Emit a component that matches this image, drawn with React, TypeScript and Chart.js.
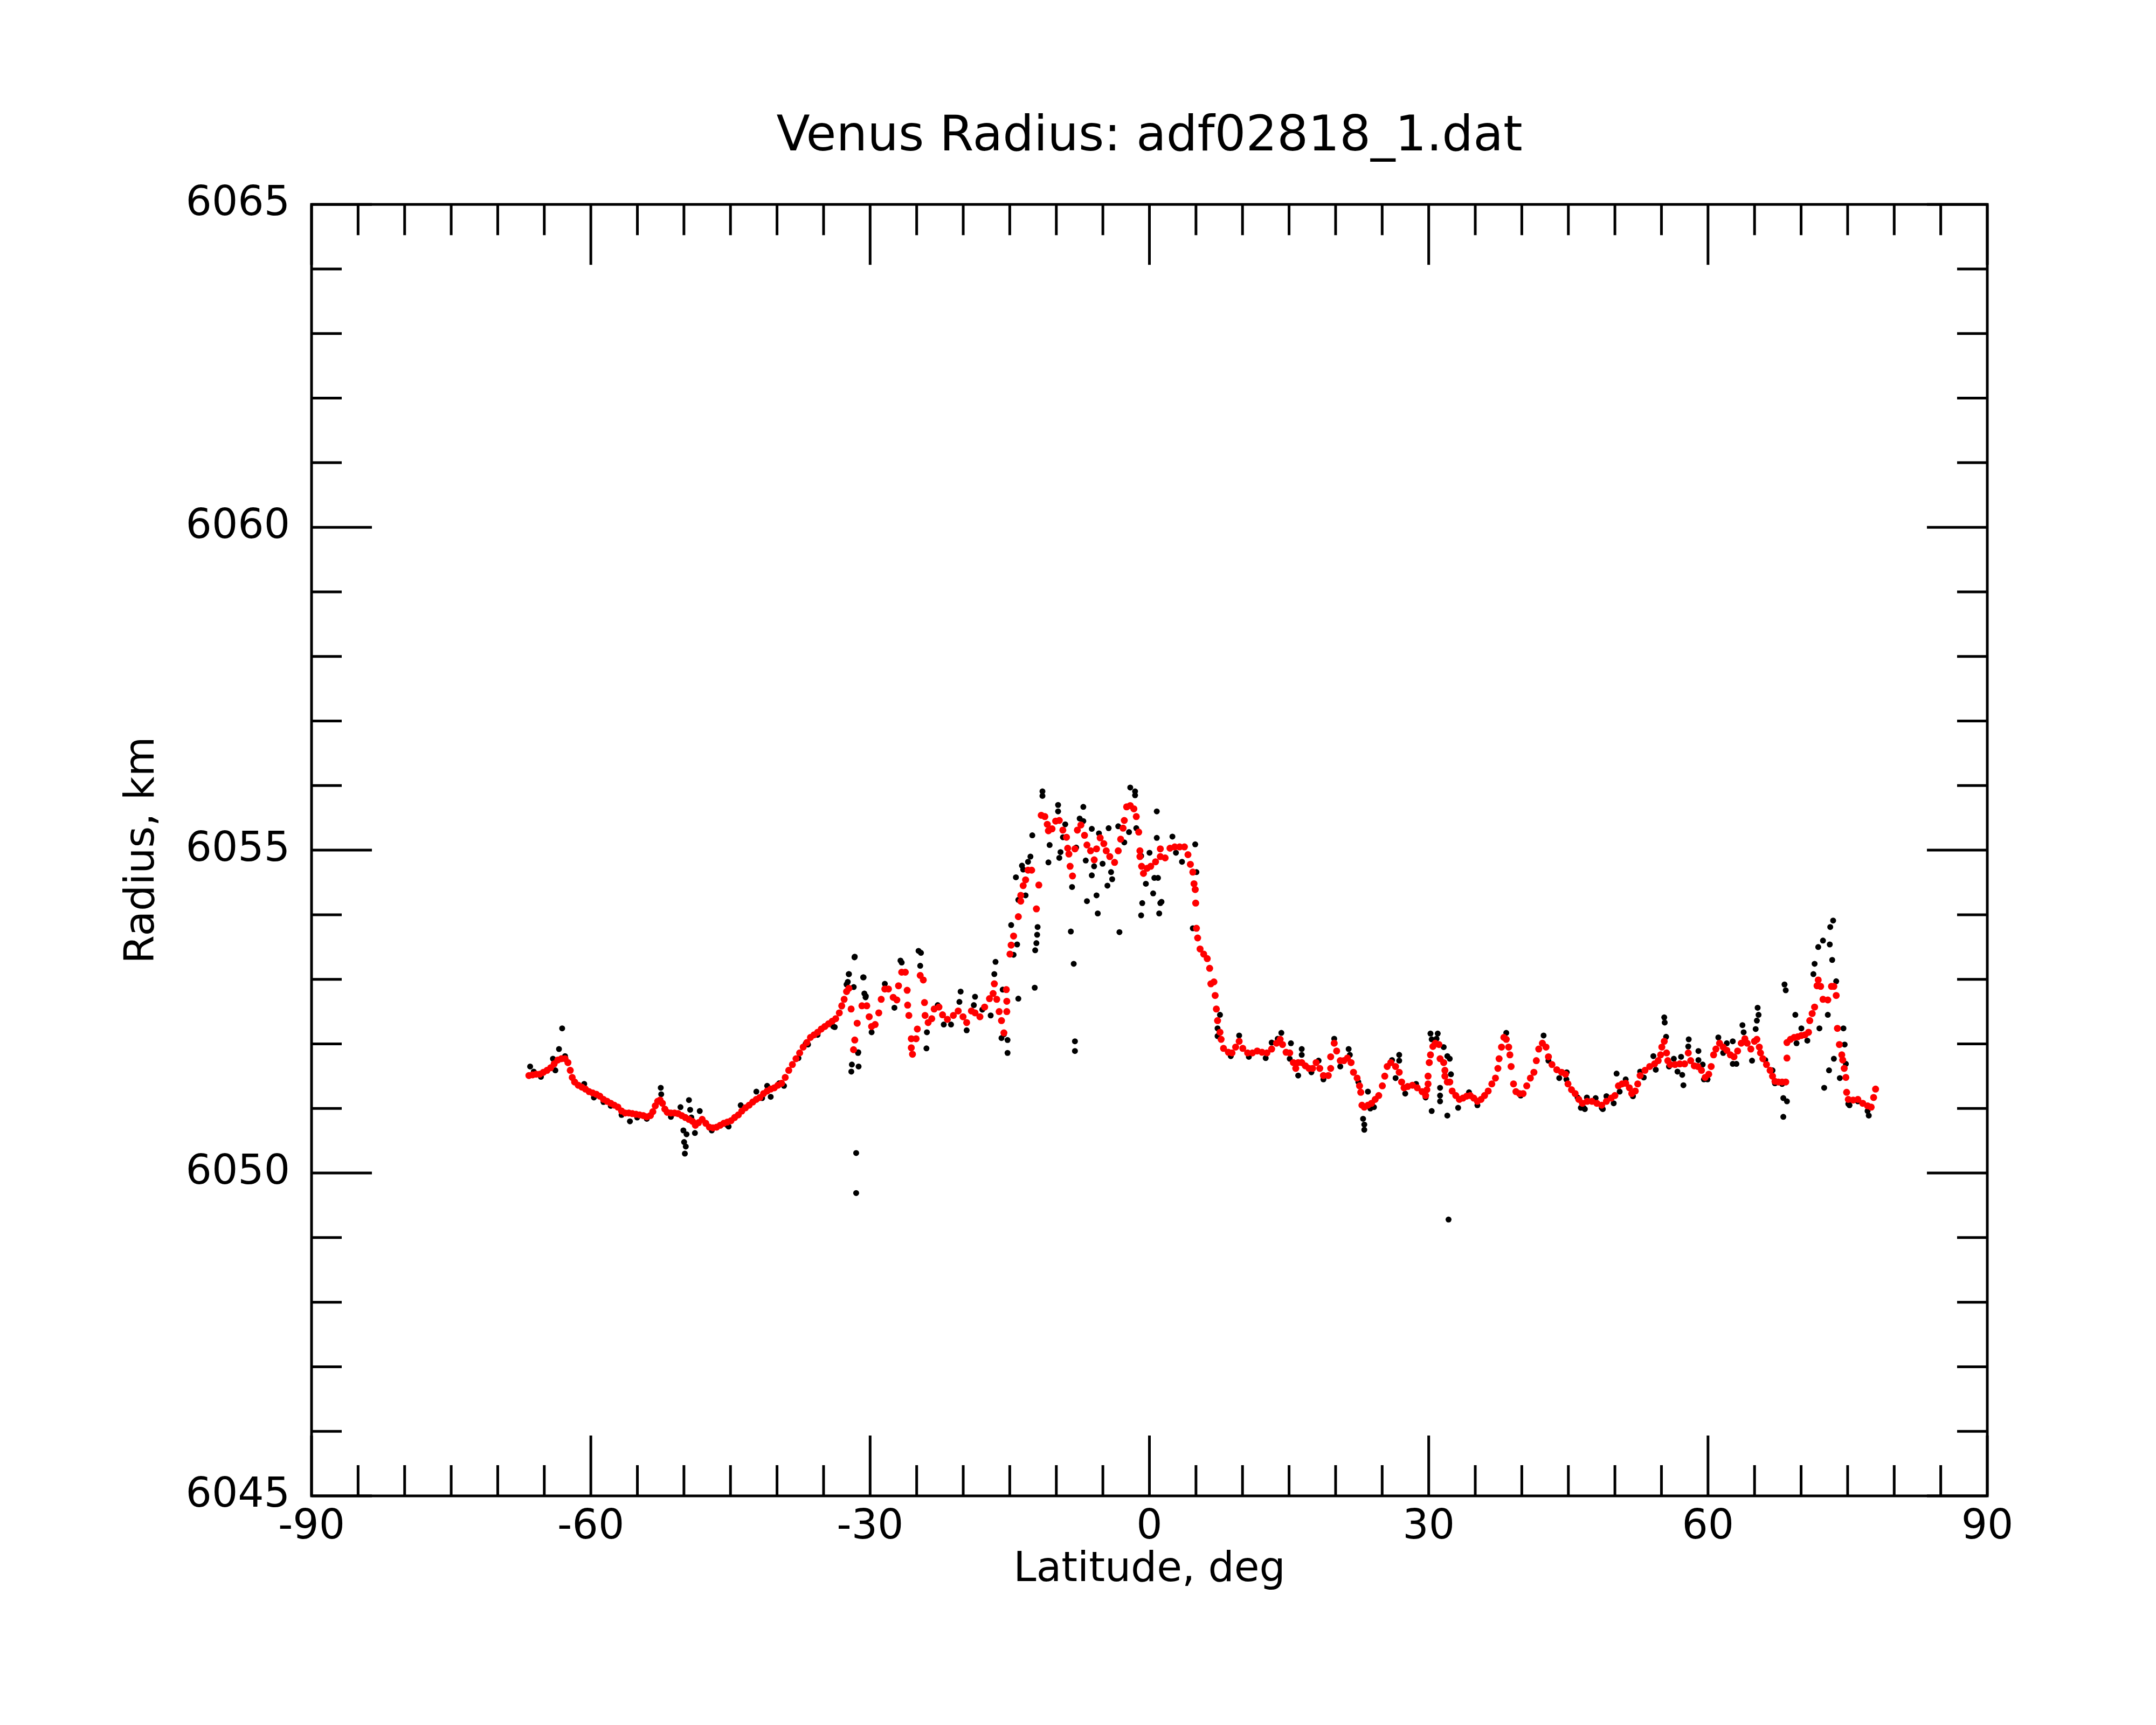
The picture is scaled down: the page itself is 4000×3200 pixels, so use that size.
import { useEffect, useRef } from "react"
import { Chart, registerables } from "chart.js"

Chart.register(...registerables)

const FONT = "DejaVu Sans"

const chartTitle = "Venus Radius: adf02818_1.dat"
const xTitle = "Latitude, deg"
const yTitle = "Radius, km"

const latTicks = [-90, -60, -30, 0, 30, 60, 90]
const radiusTicks = [6045, 6050, 6055, 6060, 6065]
const latMinorStep = 5
const radiusMinorStep = 1

// smoothed radius profile (red), [latitude, radius]
const smoothSouth: [number, number][] = [
  [-66.65, 6051.51], [-66.26, 6051.52], [-65.88, 6051.53], [-65.49, 6051.53], [-65.1, 6051.56],
  [-64.71, 6051.59], [-64.32, 6051.63], [-63.94, 6051.69], [-63.55, 6051.75], [-63.16, 6051.77],
  [-62.77, 6051.77], [-62.46, 6051.71], [-62.21, 6051.59], [-62.0, 6051.48], [-61.74, 6051.41],
  [-61.35, 6051.36], [-60.96, 6051.33], [-60.58, 6051.3], [-60.19, 6051.26], [-59.8, 6051.24],
  [-59.41, 6051.22], [-59.03, 6051.19], [-58.64, 6051.14], [-58.25, 6051.11], [-57.86, 6051.08],
  [-57.48, 6051.05], [-57.09, 6051.02], [-56.7, 6050.96], [-56.31, 6050.93], [-55.92, 6050.93],
  [-55.54, 6050.92], [-55.15, 6050.91], [-54.76, 6050.9], [-54.37, 6050.89], [-53.99, 6050.87],
  [-53.6, 6050.89], [-53.34, 6050.95], [-53.08, 6051.04], [-52.82, 6051.11], [-52.56, 6051.13],
  [-52.31, 6051.08], [-52.05, 6050.99], [-51.79, 6050.94], [-51.4, 6050.93], [-51.01, 6050.93],
  [-50.63, 6050.92], [-50.24, 6050.89], [-49.85, 6050.86], [-49.46, 6050.83], [-49.08, 6050.8],
  [-48.77, 6050.74], [-48.43, 6050.78], [-48.04, 6050.83], [-47.65, 6050.77], [-47.27, 6050.71],
  [-46.88, 6050.7], [-46.49, 6050.71], [-46.1, 6050.74], [-45.72, 6050.77], [-45.33, 6050.79],
  [-44.94, 6050.81], [-44.55, 6050.86], [-44.16, 6050.9], [-43.78, 6050.96], [-43.39, 6051.01],
  [-43.0, 6051.05], [-42.61, 6051.1], [-42.23, 6051.14], [-41.84, 6051.17], [-41.45, 6051.23],
  [-41.06, 6051.27], [-40.68, 6051.3], [-40.29, 6051.32], [-39.9, 6051.36], [-39.51, 6051.39],
  [-39.12, 6051.48], [-38.74, 6051.59], [-38.35, 6051.68], [-37.96, 6051.77], [-37.57, 6051.86],
  [-37.19, 6051.95], [-36.8, 6052.02], [-36.41, 6052.1], [-36.02, 6052.14], [-35.64, 6052.18],
  [-35.25, 6052.23], [-34.86, 6052.27], [-34.47, 6052.31], [-34.08, 6052.35], [-33.7, 6052.39],
  [-33.31, 6052.48], [-33.05, 6052.59], [-32.79, 6052.69], [-32.53, 6052.81], [-32.28, 6052.86],
]

const smoothEquator: [number, number][] = [
  [-32.04, 6052.54], [-31.78, 6051.91], [-31.65, 6052.06], [-31.39, 6052.32], [-30.88, 6052.59],
  [-30.36, 6052.59], [-30.1, 6052.42], [-29.84, 6052.27], [-29.46, 6052.3], [-29.07, 6052.48],
  [-28.81, 6052.69], [-28.42, 6052.85], [-28.03, 6052.85], [-27.52, 6052.72], [-27.13, 6052.68],
  [-26.95, 6052.9], [-26.61, 6053.11], [-26.22, 6053.11], [-26.02, 6052.83], [-25.97, 6052.6],
  [-25.84, 6052.44], [-25.58, 6052.08], [-25.58, 6051.94], [-25.45, 6051.84], [-25.06, 6052.08],
  [-24.93, 6052.23], [-24.62, 6053.06], [-24.29, 6052.99], [-24.16, 6052.64], [-24.1, 6052.44],
  [-23.77, 6052.33], [-23.38, 6052.39], [-23.12, 6052.54], [-22.61, 6052.57], [-22.22, 6052.45],
  [-21.7, 6052.38], [-21.06, 6052.44], [-20.54, 6052.51], [-20.02, 6052.42], [-19.63, 6052.33],
  [-19.12, 6052.51], [-18.73, 6052.48], [-18.21, 6052.42], [-17.7, 6052.57], [-17.18, 6052.7],
  [-16.79, 6052.78], [-16.66, 6052.93], [-16.4, 6052.69], [-16.14, 6052.5], [-15.89, 6052.36],
  [-15.63, 6052.17], [-15.37, 6052.84], [-15.32, 6052.66], [-15.32, 6052.5], [-14.98, 6053.39],
  [-14.85, 6053.53], [-14.59, 6053.67], [-14.08, 6053.97], [-13.82, 6054.21], [-13.82, 6054.3],
  [-13.56, 6054.45], [-13.3, 6054.54], [-13.04, 6054.69], [-12.65, 6054.69], [-12.14, 6054.09],
  [-11.88, 6054.46], [-11.62, 6055.54], [-11.23, 6055.52], [-10.97, 6055.4], [-10.85, 6055.3],
  [-10.46, 6055.33], [-10.07, 6055.45], [-9.68, 6055.46], [-9.3, 6055.31], [-8.91, 6055.2],
  [-8.78, 6055.03], [-8.65, 6054.94], [-8.52, 6054.75], [-8.26, 6054.6], [-8.0, 6055.02],
  [-7.74, 6055.31], [-7.36, 6055.39], [-6.97, 6055.23], [-6.71, 6055.08], [-6.32, 6054.99],
  [-5.93, 6054.85], [-5.68, 6055.02], [-5.29, 6055.19], [-4.9, 6055.1], [-4.64, 6054.99],
  [-4.26, 6054.9], [-3.74, 6054.81], [-3.35, 6054.99], [-3.09, 6055.17], [-2.83, 6055.34],
  [-2.7, 6055.46], [-2.45, 6055.67], [-2.06, 6055.69], [-1.67, 6055.64], [-1.41, 6055.52],
  [-1.15, 6055.28], [-1.02, 6054.99], [-1.02, 6054.9], [-0.84, 6054.75], [-0.64, 6054.64],
  [-0.25, 6054.72], [0.14, 6054.75], [0.66, 6054.82], [1.17, 6054.9], [1.17, 6055.02],
  [1.69, 6054.88], [2.21, 6055.03], [2.72, 6055.05], [3.24, 6055.05], [3.76, 6055.05],
  [4.14, 6054.93], [4.4, 6054.78], [4.66, 6054.66], [4.79, 6054.48], [4.92, 6054.39],
  [4.97, 6054.18], [5.05, 6053.79], [5.18, 6053.64], [5.44, 6053.47], [5.83, 6053.39],
  [6.21, 6053.32], [6.47, 6053.17], [6.6, 6052.93],
]

const smoothNorth: [number, number][] = [
  [6.93, 6052.96], [7.06, 6052.75], [7.19, 6052.54], [7.32, 6052.36], [7.58, 6052.18],
  [7.7, 6052.07], [7.96, 6051.93], [8.48, 6051.87], [8.87, 6051.86], [9.26, 6051.95],
  [9.64, 6052.04], [10.03, 6051.93], [10.55, 6051.86], [11.06, 6051.86], [11.58, 6051.89],
  [12.1, 6051.87], [12.62, 6051.86], [13.13, 6051.92], [13.65, 6052.01], [14.04, 6052.07],
  [14.3, 6051.99], [14.68, 6051.87], [15.07, 6051.86], [15.46, 6051.71], [15.72, 6051.62],
  [15.98, 6051.71], [16.36, 6051.71], [16.75, 6051.66], [17.14, 6051.62], [17.53, 6051.62],
  [17.91, 6051.71], [18.3, 6051.62], [18.69, 6051.51], [19.21, 6051.51], [19.47, 6051.62],
  [19.47, 6051.8], [19.85, 6052.01], [20.11, 6051.89], [20.5, 6051.74], [20.89, 6051.74],
  [21.27, 6051.78], [21.66, 6051.71], [21.92, 6051.56], [22.31, 6051.47], [22.57, 6051.35],
  [22.7, 6051.25], [22.83, 6051.05], [23.08, 6051.02], [23.47, 6051.05], [23.86, 6051.08],
  [24.25, 6051.14], [24.63, 6051.2], [25.02, 6051.35], [25.28, 6051.5], [25.54, 6051.65],
  [25.93, 6051.71], [26.44, 6051.65], [26.83, 6051.56], [27.09, 6051.41], [27.35, 6051.32],
  [27.74, 6051.34], [28.25, 6051.36], [28.77, 6051.32], [29.29, 6051.26], [29.67, 6051.2],
  [29.8, 6051.29], [29.93, 6051.38], [29.93, 6051.5], [30.06, 6051.71], [30.19, 6051.83],
  [30.45, 6051.96], [30.71, 6052.01], [31.1, 6051.99], [31.22, 6051.77], [31.61, 6051.71],
  [31.74, 6051.59], [31.74, 6051.5], [32.0, 6051.41], [32.26, 6051.41], [32.52, 6051.27],
  [32.91, 6051.2], [33.29, 6051.14], [33.68, 6051.16], [34.07, 6051.19], [34.46, 6051.2],
  [34.84, 6051.16], [35.23, 6051.11], [35.62, 6051.14], [36.0, 6051.2], [36.39, 6051.27],
  [36.78, 6051.38], [37.17, 6051.47], [37.43, 6051.62], [37.56, 6051.77], [37.82, 6051.95],
  [38.07, 6052.1], [38.33, 6052.07], [38.59, 6051.95], [38.72, 6051.83], [38.85, 6051.65],
  [39.11, 6051.38], [39.37, 6051.26], [39.75, 6051.23], [40.14, 6051.23], [40.53, 6051.35],
  [40.92, 6051.47], [41.3, 6051.56], [41.56, 6051.74], [41.82, 6051.92], [42.21, 6052.01],
  [42.6, 6051.95], [42.86, 6051.8], [43.24, 6051.68], [43.76, 6051.6], [44.28, 6051.56],
  [44.7, 6051.53], [44.96, 6051.38], [45.34, 6051.29], [45.73, 6051.23], [46.12, 6051.14],
  [46.51, 6051.08], [47.02, 6051.11], [47.54, 6051.11], [48.06, 6051.08], [48.58, 6051.05],
  [49.09, 6051.11], [49.61, 6051.16], [50.0, 6051.2], [50.38, 6051.35], [50.77, 6051.38],
  [51.16, 6051.39], [51.55, 6051.32], [51.81, 6051.23], [52.19, 6051.27], [52.45, 6051.38],
  [52.71, 6051.51], [53.23, 6051.59], [53.74, 6051.65], [54.26, 6051.69], [54.65, 6051.74],
  [54.91, 6051.83], [55.04, 6051.95], [55.3, 6052.04], [55.55, 6051.86], [55.68, 6051.74],
  [55.94, 6051.68], [56.46, 6051.68], [56.97, 6051.69], [57.49, 6051.69], [57.88, 6051.86],
  [58.14, 6051.74], [58.53, 6051.66], [58.91, 6051.65], [59.3, 6051.59], [59.69, 6051.48],
  [60.08, 6051.53], [60.34, 6051.65], [60.6, 6051.83], [60.85, 6051.92], [61.24, 6052.01],
  [61.63, 6051.95], [62.02, 6051.9], [62.4, 6051.83], [62.79, 6051.8], [63.18, 6051.89],
  [63.57, 6052.01], [63.96, 6052.08], [64.21, 6052.01], [64.6, 6051.92], [64.99, 6052.04],
  [65.25, 6052.07], [65.51, 6051.95], [65.64, 6051.86], [65.89, 6051.77], [66.28, 6051.68],
  [66.67, 6051.59], [66.93, 6051.5], [67.19, 6051.42], [67.57, 6051.41], [67.96, 6051.41],
  [68.35, 6051.41], [68.48, 6051.78], [68.48, 6052.02], [68.86, 6052.07], [69.25, 6052.1],
  [69.64, 6052.11], [70.03, 6052.13], [70.42, 6052.14], [70.8, 6052.18], [70.93, 6052.36],
  [71.19, 6052.47], [71.45, 6052.57], [71.71, 6052.9], [71.84, 6052.99], [72.1, 6052.89],
  [72.35, 6052.69], [72.87, 6052.68], [73.26, 6052.89], [73.52, 6052.89], [73.77, 6052.75],
  [73.9, 6052.24], [74.11, 6051.99], [74.37, 6051.83], [74.47, 6051.75], [74.63, 6051.62],
  [74.81, 6051.48], [74.89, 6051.25], [75.07, 6051.14], [75.59, 6051.13], [76.1, 6051.14],
  [76.62, 6051.08], [77.14, 6051.04], [77.53, 6051.02], [77.79, 6051.17], [78.0, 6051.3],
]

// raw measurements (black), [latitude, radius]
const rawSouth: [number, number][] = [
  [-66.52, 6051.65], [-66.13, 6051.57], [-65.36, 6051.49], [-64.07, 6051.77], [-63.81, 6051.59],
  [-63.42, 6051.92], [-63.08, 6052.24], [-62.77, 6051.81], [-60.71, 6051.38], [-59.67, 6051.17],
  [-58.64, 6051.1], [-57.86, 6051.04], [-56.7, 6050.9], [-55.8, 6050.8], [-55.02, 6050.86],
  [-53.99, 6050.84], [-52.49, 6051.32], [-52.44, 6051.22], [-51.4, 6050.87], [-50.37, 6051.02],
  [-50.06, 6050.66], [-49.98, 6050.48], [-49.9, 6050.3], [-49.8, 6050.41], [-49.72, 6050.6],
  [-49.46, 6051.13], [-49.33, 6050.98], [-49.2, 6050.86], [-48.82, 6050.62], [-48.3, 6050.96],
  [-47.01, 6050.66], [-45.33, 6050.74], [-45.2, 6050.72], [-43.9, 6051.05], [-42.22, 6051.26],
  [-41.6, 6051.16], [-41.06, 6051.35], [-40.68, 6051.18], [-39.77, 6051.39], [-39.25, 6051.35],
  [-37.7, 6051.78], [-36.93, 6052.0], [-36.67, 6051.99], [-35.64, 6052.14], [-33.96, 6052.27],
  [-33.8, 6052.26], [-33.05, 6052.58], [-32.53, 6052.92], [-32.4, 6052.96], [-32.27, 6053.08],
  [-31.68, 6053.34], [-31.76, 6052.88], [-31.96, 6051.68], [-32.02, 6051.57], [-31.3, 6051.86],
  [-31.24, 6051.65], [-31.5, 6050.31], [-31.5, 6049.69],
]

const rawEquator: [number, number][] = [
  [-31.65, 6053.35], [-32.3, 6053.08], [-30.75, 6053.03], [-30.62, 6052.78], [-30.49, 6052.72],
  [-30.7, 6053.03], [-30.46, 6052.74], [-29.84, 6052.18], [-31.27, 6051.87], [-28.42, 6052.93],
  [-27.39, 6052.56], [-26.74, 6053.29], [-26.61, 6053.26], [-24.8, 6053.44], [-24.54, 6053.41],
  [-24.62, 6053.21], [-23.9, 6052.18], [-23.95, 6051.93], [-22.74, 6052.6], [-22.09, 6052.3],
  [-21.31, 6052.3], [-20.28, 6052.81], [-20.41, 6052.65], [-19.63, 6052.21], [-18.73, 6052.73],
  [-18.86, 6052.6], [-17.95, 6052.53], [-17.05, 6052.44], [-16.66, 6053.08], [-16.53, 6053.27],
  [-15.89, 6052.09], [-15.63, 6052.15], [-15.24, 6052.06], [-15.24, 6051.86], [-15.76, 6052.84],
  [-14.08, 6052.7], [-14.85, 6053.84], [-14.59, 6053.38], [-14.21, 6053.54], [-14.34, 6054.58],
  [-14.08, 6054.23], [-13.69, 6054.76], [-13.56, 6054.7], [-13.3, 6054.3], [-13.04, 6054.82],
  [-12.78, 6054.9], [-12.58, 6055.23], [-12.32, 6052.87], [-12.27, 6053.45], [-12.14, 6053.56],
  [-12.06, 6053.69], [-12.01, 6053.81], [-11.49, 6055.91], [-11.49, 6055.84], [-10.85, 6054.81],
  [-10.72, 6055.08], [-9.81, 6055.7], [-9.81, 6055.6], [-9.55, 6054.97], [-9.68, 6054.88],
  [-9.29, 6055.2], [-9.04, 6055.4], [-8.44, 6053.74], [-8.31, 6054.43], [-8.13, 6053.24],
  [-8.0, 6052.04], [-8.0, 6051.89], [-7.87, 6055.04], [-7.49, 6055.49], [-7.1, 6055.67],
  [-7.1, 6055.45], [-6.84, 6054.84], [-6.71, 6054.21], [-6.19, 6055.33], [-6.19, 6054.61],
  [-5.94, 6054.75], [-5.68, 6054.3], [-5.55, 6054.02], [-5.42, 6055.26], [-5.03, 6054.79],
  [-4.51, 6054.45], [-4.38, 6055.34], [-4.12, 6054.66], [-4.0, 6054.55], [-3.22, 6053.73],
  [-3.35, 6055.37], [-2.7, 6055.12], [-2.06, 6055.97], [-1.54, 6055.91], [-1.54, 6055.85],
  [-2.19, 6055.28], [-1.41, 6055.34], [-0.89, 6053.99], [-0.77, 6054.18], [-0.89, 6054.91],
  [-0.38, 6054.48], [0.01, 6054.96], [0.4, 6054.33], [0.53, 6054.57], [0.79, 6055.19],
  [1.17, 6054.18], [1.05, 6054.02], [1.3, 6054.2], [0.92, 6054.57], [0.79, 6055.6],
  [2.47, 6055.21], [2.85, 6054.96], [3.5, 6054.82], [4.92, 6055.09], [5.05, 6054.66],
  [4.66, 6053.79],
]

const rawNorth: [number, number][] = [
  [7.58, 6052.45], [7.32, 6052.24], [7.32, 6052.12], [8.74, 6051.81], [9.64, 6052.13],
  [10.68, 6051.8], [12.49, 6051.78], [13.13, 6052.02], [14.17, 6052.17], [13.78, 6052.08],
  [15.2, 6052.01], [15.07, 6051.77], [15.98, 6051.51], [16.36, 6051.92], [16.36, 6051.83],
  [17.4, 6051.56], [18.17, 6051.74], [18.69, 6051.45], [19.85, 6052.08], [20.5, 6051.65],
  [21.4, 6051.92], [21.53, 6051.83], [22.44, 6051.41], [22.95, 6050.84], [23.08, 6050.75],
  [23.08, 6050.67], [23.47, 6051.26], [23.73, 6051.0], [24.12, 6051.02], [26.06, 6051.75],
  [26.83, 6051.83], [26.83, 6051.74], [26.44, 6051.47], [27.48, 6051.23], [28.64, 6051.38],
  [29.67, 6051.17], [30.19, 6052.16], [30.32, 6052.07], [30.97, 6052.16], [30.84, 6052.08],
  [31.61, 6051.95], [30.32, 6050.96], [31.22, 6051.32], [31.22, 6051.2], [31.22, 6051.11],
  [32.0, 6051.81], [32.26, 6051.77], [32.39, 6051.53], [32.0, 6050.89], [32.13, 6049.28],
  [33.16, 6051.01], [34.33, 6051.25], [35.23, 6051.05], [38.33, 6052.17], [39.88, 6051.2],
  [42.34, 6052.13], [42.86, 6051.74], [44.02, 6051.47], [44.79, 6051.45], [44.83, 6051.56],
  [45.99, 6051.17], [46.34, 6051.01], [46.64, 6051.01], [46.77, 6050.99], [46.99, 6051.17],
  [47.93, 6051.16], [48.58, 6051.01], [48.7, 6050.99], [49.09, 6051.19], [49.87, 6051.08],
  [50.18, 6051.54], [50.51, 6051.26], [51.16, 6051.45], [51.94, 6051.19], [52.71, 6051.57],
  [53.1, 6051.48], [54.13, 6051.81], [54.39, 6051.6], [55.3, 6052.41], [55.35, 6052.33],
  [55.5, 6052.11], [55.81, 6051.65], [56.33, 6051.77], [56.72, 6051.57], [57.11, 6051.8],
  [57.23, 6051.52], [57.36, 6051.36], [57.93, 6052.07], [57.88, 6051.96], [58.97, 6051.89],
  [58.97, 6051.75], [59.43, 6051.68], [59.56, 6051.45], [59.95, 6051.45], [61.11, 6052.1],
  [61.63, 6051.86], [62.02, 6052.01], [62.66, 6052.04], [62.66, 6051.69], [63.05, 6051.69],
  [63.7, 6052.29], [63.83, 6052.18], [65.12, 6052.23], [65.33, 6052.56], [65.43, 6052.45],
  [65.25, 6052.36], [64.73, 6051.74], [66.15, 6051.75], [66.93, 6051.59], [67.19, 6051.39],
  [67.96, 6051.38], [68.09, 6051.16], [68.48, 6051.11], [68.09, 6050.87], [68.22, 6052.92],
  [68.35, 6052.83], [69.38, 6052.45], [70.03, 6052.24], [69.51, 6052.01], [70.67, 6052.05],
  [71.32, 6053.08], [71.45, 6053.24], [71.84, 6053.5], [72.35, 6053.6], [73.13, 6053.81],
  [73.44, 6053.91], [73.08, 6053.54], [73.34, 6053.3], [73.77, 6052.97], [71.97, 6052.24],
  [72.87, 6052.45], [73.0, 6051.59], [72.48, 6051.32], [73.52, 6051.77], [74.16, 6051.47],
  [74.55, 6052.24], [74.68, 6051.99], [74.81, 6051.69], [75.07, 6051.07], [75.2, 6051.05],
  [76.1, 6051.11], [77.14, 6050.96], [77.27, 6050.89],
]

const toPoints = (rows: [number, number][]) => rows.map(([x, y]) => ({ x, y }))

// inward tick marks on all four sides plus the frame
const tickMarks = {
  id: "tickMarks",
  afterDraw(chart: Chart) {
    const { ctx, chartArea: a } = chart
    const xs = chart.scales.x
    const ys = chart.scales.y
    ctx.save()
    ctx.strokeStyle = "#000"
    ctx.lineWidth = 5
    ctx.beginPath()
    for (let v = latTicks[0]; v <= latTicks[latTicks.length - 1]; v += latMinorStep) {
      const px = xs.getPixelForValue(v)
      const len = latTicks.includes(v) ? 112 : 57
      ctx.moveTo(px, a.bottom)
      ctx.lineTo(px, a.bottom - len)
      ctx.moveTo(px, a.top)
      ctx.lineTo(px, a.top + len)
    }
    for (let v = radiusTicks[0]; v <= radiusTicks[radiusTicks.length - 1]; v += radiusMinorStep) {
      const py = ys.getPixelForValue(v)
      const len = radiusTicks.includes(v) ? 112 : 56
      ctx.moveTo(a.left, py)
      ctx.lineTo(a.left + len, py)
      ctx.moveTo(a.right, py)
      ctx.lineTo(a.right - len, py)
    }
    ctx.stroke()
    ctx.strokeRect(a.left, a.top, a.right - a.left, a.bottom - a.top)
    ctx.restore()
  },
}

export default function App() {
  const canvasRef = useRef<HTMLCanvasElement>(null)
  const chartRef = useRef<Chart | null>(null)

  useEffect(() => {
    if (!canvasRef.current) return
    if (chartRef.current) chartRef.current.destroy()

    chartRef.current = new Chart(canvasRef.current, {
      type: "scatter",
      data: {
        datasets: [
          {
            label: "smoothed",
            data: toPoints([...smoothSouth, ...smoothEquator, ...smoothNorth]),
            backgroundColor: "#ff0000",
            borderWidth: 0,
            pointRadius: 6.5,
            pointHoverRadius: 6.5,
            order: 0,
          },
          {
            label: "raw",
            data: toPoints([...rawSouth, ...rawEquator, ...rawNorth]),
            backgroundColor: "#000000",
            borderWidth: 0,
            pointRadius: 5.5,
            pointHoverRadius: 5.5,
            order: 1,
          },
        ],
      },
      options: {
        responsive: false,
        animation: false,
        devicePixelRatio: 1,
        events: [],
        layout: { padding: { left: 0, top: 0, right: 313, bottom: 0 } },
        plugins: {
          legend: { display: false },
          tooltip: { enabled: false },
          title: {
            display: true,
            text: chartTitle,
            color: "#000",
            fullSize: false,
            font: { family: FONT, size: 91, weight: "normal" },
            padding: { top: 201, bottom: 69 },
          },
        },
        scales: {
          x: {
            type: "linear",
            min: -90,
            max: 90,
            afterBuildTicks: (s: any) => {
              s.ticks = latTicks.map((value) => ({ value }))
            },
            afterFit: (s: any) => {
              s.height = 425
            },
            grid: { display: false, drawTicks: false, tickLength: 0 },
            border: { display: false },
            ticks: {
              color: "#000",
              font: { family: FONT, size: 76 },
              padding: 14,
              maxRotation: 0,
              autoSkip: false,
              callback: (v: any) => String(v),
            },
            title: {
              display: true,
              text: xTitle,
              color: "#000",
              font: { family: FONT, size: 76 },
              padding: { top: 0, bottom: 241 },
            },
          },
          y: {
            type: "linear",
            min: 6045,
            max: 6065,
            afterBuildTicks: (s: any) => {
              s.ticks = radiusTicks.map((value) => ({ value }))
            },
            afterFit: (s: any) => {
              s.width = 578
            },
            grid: { display: false, drawTicks: false, tickLength: 0 },
            border: { display: false },
            ticks: {
              color: "#000",
              font: { family: FONT, size: 76 },
              padding: 40,
              autoSkip: false,
              callback: (v: any) => String(v),
            },
            title: {
              display: true,
              text: yTitle,
              color: "#000",
              font: { family: FONT, size: 76 },
              padding: { top: 220, bottom: 0 },
            },
          },
        },
      },
      plugins: [tickMarks],
    })

    return () => {
      if (chartRef.current) {
        chartRef.current.destroy()
        chartRef.current = null
      }
    }
  }, [])

  return (
    <div style={{ position: "absolute", left: 0, top: 0, width: 4000, height: 3200, background: "#fff" }}>
      <canvas ref={canvasRef} width={4000} height={3200} />
    </div>
  )
}
